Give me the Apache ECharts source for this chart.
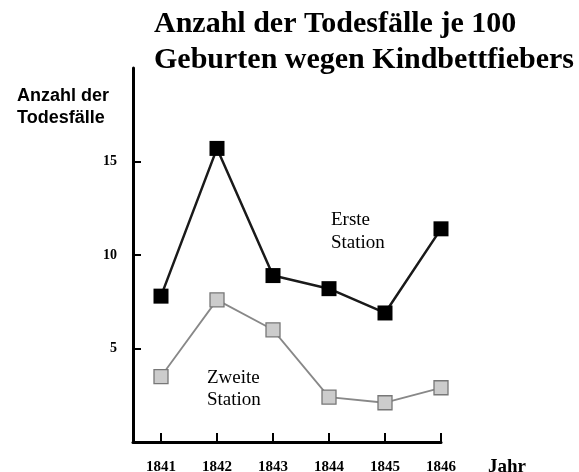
<!DOCTYPE html>
<html><head><meta charset="utf-8">
<script src="https://cdn.jsdelivr.net/npm/echarts@6/dist/echarts.min.js"></script>
<style>html,body{margin:0;padding:0;background:#fff}#c{width:579px;height:472px}</style>
</head><body><div id="c"></div>
<script>
const years = [1841, 1842, 1843, 1844, 1845, 1846];
const ersteStation = [7.8, 15.7, 8.9, 8.2, 6.9, 11.4];
const zweiteStation = [3.5, 7.6, 6.0, 2.4, 2.1, 2.9];
const yTickValues = [5, 10, 15];
const titleText = 'Anzahl der Todesfälle je 100\nGeburten wegen Kindbettfiebers';
const yNameLines = ['Anzahl der', 'Todesfälle'];
const xName = 'Jahr';
const label1 = 'Erste\nStation';
const label2 = 'Zweite\nStation';

const chart = echarts.init(document.getElementById('c'), null, {renderer: 'canvas'});
const serif = '"Liberation Serif", "Times New Roman", serif';
const sans = '"Liberation Sans", Arial, sans-serif';
chart.setOption({
  backgroundColor: '#fff',
  animation: false,
  title: {
    text: titleText, left: 154, top: 6, padding: 0,
    textStyle: {fontFamily: serif, fontWeight: 'bold', fontSize: 30, lineHeight: 36, color: '#000'}
  },
  grid: {left: 133, top: 68, width: 308, height: 374, containLabel: false, outerBoundsMode: 'none'},
  xAxis: {
    type: 'value', min: 1840.5, max: 1846,
    name: xName, nameLocation: 'end', nameGap: 47,
    nameTextStyle: {fontFamily: serif, fontWeight: 'bold', fontSize: 19, color: '#000', align: 'left', verticalAlign: 'top', padding: [16, 0, 0, 0]},
    axisLine: {show: true, lineStyle: {color: '#000', width: 3}},
    axisTick: {show: true, inside: true, length: 9, lineStyle: {color: '#000', width: 2}, customValues: years},
    axisLabel: {customValues: years, formatter: v => String(v), margin: 18, fontFamily: serif, fontWeight: 'bold', fontSize: 15, color: '#000'},
    splitLine: {show: false}
  },
  yAxis: {
    type: 'value', min: 0, max: 20,
    name: yNameLines.map(s => '{a|' + s + '}').join('\n'), nameLocation: 'end', nameGap: -17,
    nameTextStyle: {
      align: 'right', verticalAlign: 'top', padding: [0, 18, 0, 0],
      rich: {a: {fontFamily: sans, fontWeight: 'bold', fontSize: 18, lineHeight: 22, color: '#000', width: 98, align: 'left'}}
    },
    axisLine: {show: true, lineStyle: {color: '#000', width: 3}},
    axisTick: {show: true, inside: true, length: 8, lineStyle: {color: '#000', width: 2}, customValues: yTickValues},
    axisLabel: {customValues: yTickValues, margin: 16, fontFamily: serif, fontWeight: 'bold', fontSize: 14, color: '#000'},
    splitLine: {show: false}
  },
  series: [
    {
      name: 'Erste Station', type: 'line',
      data: years.map((y, i) => [y, ersteStation[i]]),
      symbol: 'rect', symbolSize: 15,
      lineStyle: {color: '#1a1a1a', width: 2.5},
      itemStyle: {color: '#000', borderColor: '#000', borderWidth: 0}
    },
    {
      name: 'Zweite Station', type: 'line',
      data: years.map((y, i) => [y, zweiteStation[i]]),
      symbol: 'rect', symbolSize: 14,
      lineStyle: {color: '#888888', width: 1.8},
      itemStyle: {color: '#cccccc', borderColor: '#777777', borderWidth: 1.3}
    }
  ],
  graphic: [
    {type: 'text', left: 331, top: 209, style: {text: label1, font: '19px ' + serif, lineHeight: 23, fill: '#000'}},
    {type: 'text', left: 207, top: 367, style: {text: label2, font: '19px ' + serif, lineHeight: 22, fill: '#000'}}
  ]
});
</script></body></html>
